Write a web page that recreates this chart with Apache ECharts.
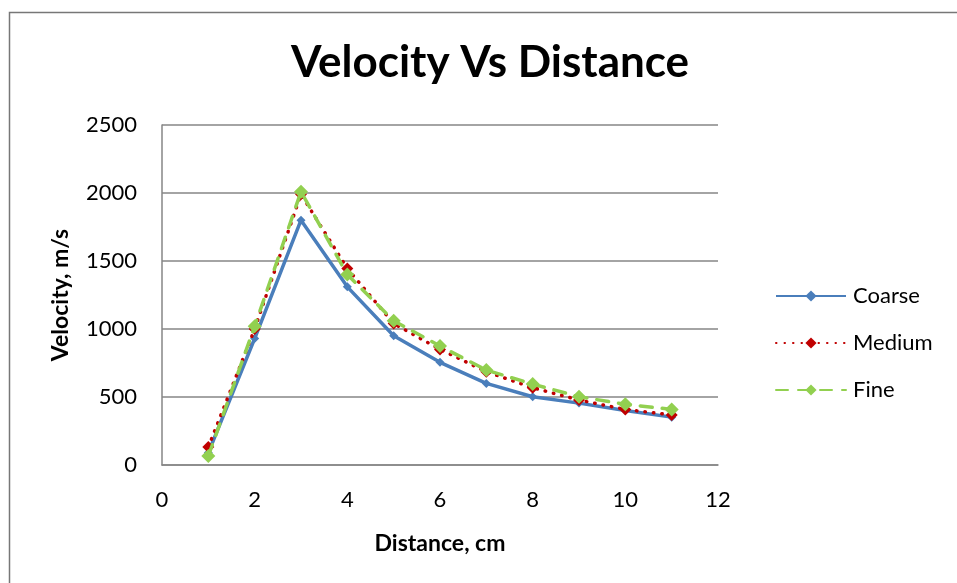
<!DOCTYPE html>
<html>
<head>
<meta charset="utf-8">
<script src="https://cdn.jsdelivr.net/npm/echarts@6/dist/echarts.min.js"></script>
<style>
  html, body { margin: 0; padding: 0; background: #fff; }
  #chart { width: 957px; height: 583px; }
</style>
</head>
<body>
<div id="chart"></div>
<script>
// values
const distance = [1, 2, 3, 4, 5, 6, 7, 8, 9, 10, 11]
const coarse = [90, 930, 1800, 1310, 950, 755, 600, 502, 455, 400, 352]
const medium = [132, 1000, 1990, 1445, 1040, 850, 686, 568, 478, 408, 368]
const fine = [66, 1020, 2010, 1400, 1060, 875, 698, 595, 502, 446, 409]

const font = 'Lato, "Open Sans", sans-serif'
const pairs = (ys) => distance.map((x, i) => [x, ys[i]])

const chart = echarts.init(document.getElementById('chart'))

chart.setOption({
  animation: false,
  title: {
    text: 'Velocity Vs Distance',
    left: 485,
    top: 36,
    textAlign: 'center',
    textStyle: { fontFamily: font, fontSize: 44, fontWeight: 'bold', color: '#000' }
  },
  // outer chart frame, cut off on the right and bottom
  graphic: [{
    type: 'rect',
    shape: { x: 9.5, y: 12.5, width: 1000, height: 1000 },
    style: { fill: 'none', stroke: '#777', lineWidth: 1.5 },
    silent: true
  }],
  legend: {
    orient: 'vertical',
    left: 770,
    top: 280,
    itemWidth: 70,
    itemHeight: 14,
    itemGap: 25,
    textStyle: { fontFamily: font, fontSize: 22, lineHeight: 22, color: '#000', padding: [0, 0, 0, 2] },
    data: ['Coarse', 'Medium', 'Fine']
  },
  grid: { left: 162, right: 239, top: 125, bottom: 118 },
  xAxis: {
    type: 'value',
    min: 0,
    max: 12,
    interval: 2,
    name: 'Distance, cm',
    nameLocation: 'middle',
    nameGap: 67,
    nameTextStyle: { fontFamily: font, fontSize: 23, fontWeight: 'bold', color: '#000' },
    axisLine: { lineStyle: { color: '#868686', width: 1.5 } },
    axisTick: { show: false },
    axisLabel: { fontFamily: font, fontSize: 22, color: '#000', margin: 24 },
    splitLine: { show: false }
  },
  yAxis: {
    type: 'value',
    min: 0,
    max: 2500,
    interval: 500,
    name: 'Velocity, m/s',
    nameLocation: 'middle',
    nameGap: 90,
    nameRotate: 90,
    nameTextStyle: { fontFamily: font, fontSize: 23, fontWeight: 'bold', color: '#000' },
    axisLine: { show: true, lineStyle: { color: '#868686', width: 1.5 } },
    axisTick: { show: false },
    axisLabel: { fontFamily: font, fontSize: 22, color: '#000', margin: 25, formatter: (v) => String(v) },
    splitLine: { lineStyle: { color: '#868686', width: 1.5 } }
  },
  series: [
    {
      name: 'Coarse',
      type: 'line',
      data: pairs(coarse),
      symbol: 'diamond',
      symbolSize: 9,
      itemStyle: { color: '#4A7EBB' },
      lineStyle: { color: '#4A7EBB', width: 3.5 },
      z: 3
    },
    {
      name: 'Medium',
      type: 'line',
      data: pairs(medium),
      symbol: 'diamond',
      symbolSize: 12,
      itemStyle: { color: '#C00000' },
      lineStyle: { color: '#C00000', width: 3.5, type: [0.5, 8], cap: 'round' },
      z: 4
    },
    {
      name: 'Fine',
      type: 'line',
      data: pairs(fine),
      symbol: 'diamond',
      symbolSize: 14,
      itemStyle: { color: '#92D050' },
      lineStyle: { color: '#92D050', width: 3.5, type: [12, 10], cap: 'round' },
      z: 5
    }
  ]
})
</script>
</body>
</html>
